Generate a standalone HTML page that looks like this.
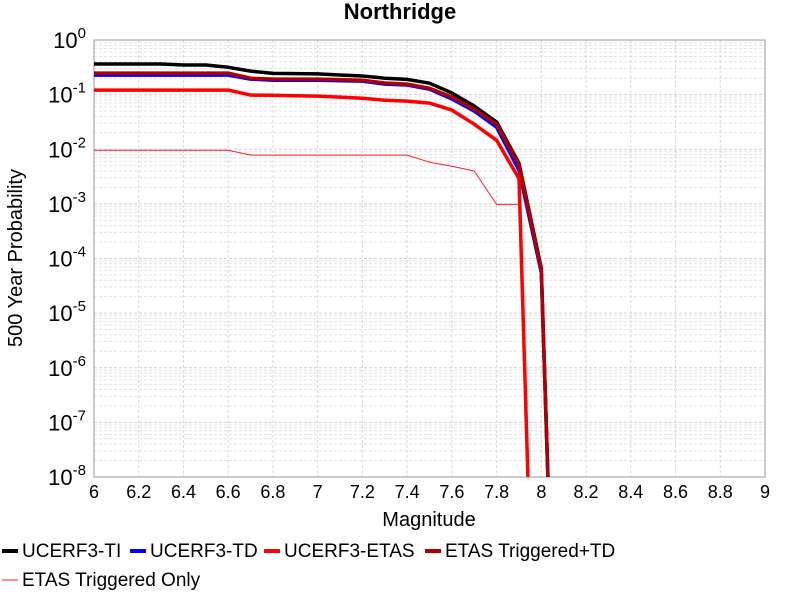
<!DOCTYPE html>
<html><head><meta charset="utf-8"><style>
html,body{margin:0;background:#fff;width:800px;height:600px;overflow:hidden;}
svg{display:block;}
svg text{font-family:"Liberation Sans",sans-serif;}
</style></head><body>
<svg id="chart" width="800" height="600">
<text x="400" y="19" text-anchor="middle" font-size="22" font-weight="bold">Northridge</text>
<g id="grid"></g>
<g id="axes"></g>
<defs><clipPath id="clip"><rect x="94" y="40" width="671" height="437"/></clipPath></defs>
<g id="series" clip-path="url(#clip)"></g>
<text x="429" y="526" text-anchor="middle" font-size="20">Magnitude</text>
<text transform="translate(22,258) rotate(-90)" text-anchor="middle" font-size="20">500 Year Probability</text>
<g id="legend"></g>
</svg>
<script>
const mags = [6.0,6.1,6.2,6.3,6.4,6.5,6.6,6.7,6.8,6.9,7.0,7.1,7.2,7.3,7.4,7.5,7.6,7.7,7.8,7.9,8.0,8.1];
const ti = [0.363,0.363,0.363,0.363,0.348,0.348,0.316,0.27,0.245,0.243,0.24,0.229,0.219,0.20,0.19,0.162,0.107,0.062,0.0316,0.0055,6.6e-5,1e-17];
const td = [0.228,0.228,0.228,0.228,0.228,0.228,0.228,0.192,0.184,0.184,0.184,0.18,0.177,0.156,0.15,0.126,0.083,0.050,0.0253,0.0041,5.5e-5,1e-17];
const etas = [0.121,0.121,0.121,0.121,0.121,0.121,0.121,0.098,0.097,0.095,0.094,0.090,0.086,0.079,0.076,0.070,0.052,0.0288,0.0146,0.0029,6e-17];
const trigTD = [0.248,0.248,0.248,0.248,0.248,0.248,0.248,0.20,0.192,0.192,0.192,0.188,0.184,0.163,0.156,0.131,0.09,0.054,0.0288,0.0051,6e-5,1e-17];
const trigOnly = [0.0096,0.0096,0.0096,0.0096,0.0096,0.0096,0.0096,0.0078,0.0078,0.0078,0.0078,0.0078,0.0078,0.0078,0.0078,0.0058,0.0049,0.0040,0.00098,0.00098];
const xTicks = [6,6.2,6.4,6.6,6.8,7,7.2,7.4,7.6,7.8,8,8.2,8.4,8.6,8.8,9];
const yExps = [0,-1,-2,-3,-4,-5,-6,-7,-8];

const NS='http://www.w3.org/2000/svg';
const X0=94,X1=765,Y0=40,Y1=477;
const xs=m=>X0+(m-6)/3*(X1-X0);
const ys=v=>Y0+(-Math.log10(v))/8*(Y1-Y0);
function mk(tag,attrs,parent){const e=document.createElementNS(NS,tag);for(const k in attrs)e.setAttribute(k,attrs[k]);parent.appendChild(e);return e;}
const grid=document.getElementById('grid'),axes=document.getElementById('axes'),ser=document.getElementById('series'),leg=document.getElementById('legend');
for(let e=0;e>-8;e--){for(let k=2;k<=9;k++){const y=ys(Math.pow(10,e-1)*k);
const l=mk('line',{x1:X0,x2:X1,y1:y,y2:y,stroke:'#e2e2e2','stroke-width':1,'stroke-dasharray':'3,2'},grid);

}}
yExps.forEach(e=>{const y=ys(Math.pow(10,e));
const l=mk('line',{x1:X0,x2:X1,y1:y,y2:y,stroke:'#d0d0d0','stroke-width':1,'stroke-dasharray':'3,2'},grid);


const t=mk('text',{x:X0-8,y:y+8,'text-anchor':'end','font-size':22},axes);


t.textContent='10';
const s=mk('tspan',{dy:-10,'font-size':15},t);s.textContent=String(e);});
xTicks.forEach(m=>{const x=xs(m);
const l=mk('line',{x1:x,x2:x,y1:Y0,y2:Y1,stroke:'#d8d8d8','stroke-width':1,'stroke-dasharray':'3,2'},grid);


const t=mk('text',{x:x,y:498,'text-anchor':'middle','font-size':18},axes);


t.textContent=String(m);});
const fr=mk('rect',{x:X0,y:Y0,width:X1-X0,height:Y1-Y0,fill:'none',stroke:'#999','stroke-width':1},axes);


const defs=[
 {d:trigOnly,c:'#ff2020',w:1,id:'series-etas-triggered-only'},
 {d:ti,c:'#000',w:3.5,id:'series-ucerf3-ti'},
 {d:td,c:'#0000ff',w:3.5,id:'series-ucerf3-td'},
 {d:trigTD,c:'#b00000',w:3.5,id:'series-etas-triggered-td'},
 {d:etas,c:'#ff0000',w:3.5,id:'series-ucerf3-etas'}];
defs.forEach(s=>{const pts=s.d.map((v,i)=>xs(mags[i]).toFixed(1)+','+ys(v).toFixed(1)).join(' ');
const p=mk('polyline',{points:pts,fill:'none',stroke:s.c,'stroke-width':s.w,'stroke-linejoin':'round'},ser);

});
const items=[
 {x:2,y:551,c:'#000',w:4,n:'UCERF3-TI'},{x:130,y:551,c:'#0000ff',w:4,n:'UCERF3-TD'},
 {x:264,y:551,c:'#ff0000',w:4,n:'UCERF3-ETAS'},{x:425,y:551,c:'#b00000',w:4,n:'ETAS Triggered+TD'},
 {x:2,y:580,c:'#ff2020',w:1,n:'ETAS Triggered Only'}];
items.forEach(it=>{const g=mk('g',{},leg);


mk('line',{x1:it.x,x2:it.x+16,y1:it.y,y2:it.y,stroke:it.c,'stroke-width':it.w},g);
const t=mk('text',{x:it.x+20,y:it.y+6,'font-size':19},g);t.textContent=it.n;});
</script>
</body></html>
